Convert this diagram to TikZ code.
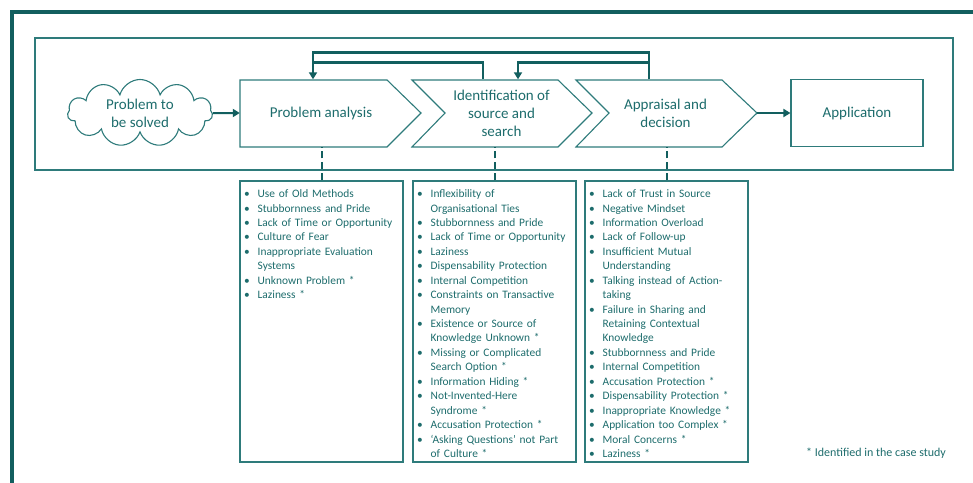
\documentclass[tikz,border=0pt]{standalone}
\usepackage{fontspec}
\setmainfont{Carlito}
\usetikzlibrary{shapes.symbols, arrows.meta, positioning}

\definecolor{tealdark}{HTML}{125F5F}
\definecolor{tealline}{HTML}{2E7B7B}
\definecolor{tealtext}{HTML}{1D6C6C}

\newcommand{\li}[1]{\par\noindent\makebox[13.5pt][l]{\textbullet}#1}
\newcommand{\lc}[1]{\par\noindent\hspace*{13.5pt}#1}

\tikzset{
  stage/.style={text=tealtext, font=\fontsize{15}{18}\selectfont, align=center, minimum height=67pt, inner sep=0pt},
  shapeline/.style={draw=tealline, line width=1.1pt},
  tip/.style={-{Triangle[width=8pt,length=7pt]}},
  flow/.style={draw=tealdark, line width=2pt, tip},
  loopline/.style={draw=tealdark, line width=2.4pt},
  listbox/.style={draw=tealline, line width=1.1pt, minimum width=163pt, minimum height=281pt, inner sep=0pt},
  listtext/.style={text=tealtext, font=\fontsize{11.4}{14.44}\selectfont, text width=158pt, align=left, inner sep=0pt, anchor=north west},
  linkdash/.style={draw=tealdark, line width=2pt, dash pattern=on 7.5pt off 3.5pt}
}

\begin{document}
\begin{tikzpicture}[x=1pt, y=-1pt]
\useasboundingbox (0,0) rectangle (973,482);

\draw[tealdark, line width=3.5pt] (12,490) -- (12,12) -- (980,12);
\draw[shapeline] (35,38) rectangle (953,170);

\draw[shapeline] (240,80) -- (387,80) -- (421,113) -- (387,147) -- (240,147) -- cycle;
\draw[shapeline] (412,80) -- (558,80) -- (592,113) -- (558,147) -- (412,147) -- (445,113) -- cycle;
\draw[shapeline] (576,80) -- (722,80) -- (757,113) -- (722,147) -- (576,147) -- (609,113) -- cycle;

\node[stage, cloud, cloud puffs=11, cloud ignores aspect, draw=tealline, line width=1.1pt, minimum width=145pt] (prob) at (140,113) {Problem to\\be solved};
\node[stage, minimum width=162pt] (pa) at (321,113) {Problem analysis};
\node[stage] (iss) at (501.5,113) {Identification of\\source and\\search};
\node[stage, minimum width=183pt] (ad) at (665.5,113) {Appraisal and\\decision};
\node[stage, draw=tealline, line width=1.1pt, minimum width=132pt] (app) at (857,113) {Application};

\draw[flow] (prob.east) -- (pa.west);
\draw[flow] (ad.east) -- (app.west);

\draw[loopline, tip] ([xshift=-16.5pt]ad.north) -- ++(0,-27) -| ([xshift=-8pt]pa.north);
\draw[loopline, tip] ([xshift=-16.5pt,yshift=17pt]ad.north) -| ([xshift=16.5pt]iss.north);
\draw[loopline] ([xshift=-18.5pt]iss.north) |- ([xshift=-8pt,yshift=17pt]pa.north);

\foreach \b/\x in {box1/321.5, box2/494.5, box3/666.5}
  \node[listbox] (\b) at (\x,321.5) {};

\foreach \s/\b in {pa/box1, iss/box2, ad/box3}
  \draw[linkdash] (\b.north) -- (\b.north |- \s.south);

\node[listtext] (list1) at ([xshift=4.5pt,yshift=-2.5pt]box1.north west) {
\li{Use of Old Methods}
\li{Stubbornness and Pride}
\li{Lack of Time or Opportunity}
\li{Culture of Fear}
\li{Inappropriate Evaluation}
\lc{Systems}
\li{Unknown Problem *}
\li{Laziness *}};

\node[listtext] (list2) at ([xshift=4.5pt,yshift=-2.5pt]box2.north west) {
\li{Inflexibility of}
\lc{Organisational Ties}
\li{Stubbornness and Pride}
\li{Lack of Time or Opportunity}
\li{Laziness}
\li{Dispensability Protection}
\li{Internal Competition}
\li{Constraints on Transactive}
\lc{Memory}
\li{Existence or Source of}
\lc{Knowledge Unknown *}
\li{Missing or Complicated}
\lc{Search Option *}
\li{Information Hiding *}
\li{Not-Invented-Here}
\lc{Syndrome *}
\li{Accusation Protection *}
\li{‘Asking Questions’ not Part}
\lc{of Culture *}};

\node[listtext] (list3) at ([xshift=4.5pt,yshift=-2.5pt]box3.north west) {
\li{Lack of Trust in Source}
\li{Negative Mindset}
\li{Information Overload}
\li{Lack of Follow-up}
\li{Insufficient Mutual}
\lc{Understanding}
\li{Talking instead of Action-}
\lc{taking}
\li{Failure in Sharing and}
\lc{Retaining Contextual}
\lc{Knowledge}
\li{Stubbornness and Pride}
\li{Internal Competition}
\li{Accusation Protection *}
\li{Dispensability Protection *}
\li{Inappropriate Knowledge *}
\li{Application too Complex *}
\li{Moral Concerns *}
\li{Laziness *}};

\node[text=tealtext, font=\fontsize{12}{14.4}\selectfont, anchor=base west, inner sep=0pt] (note) at (806,456) {* Identified in the case study};

\end{tikzpicture}
\end{document}
